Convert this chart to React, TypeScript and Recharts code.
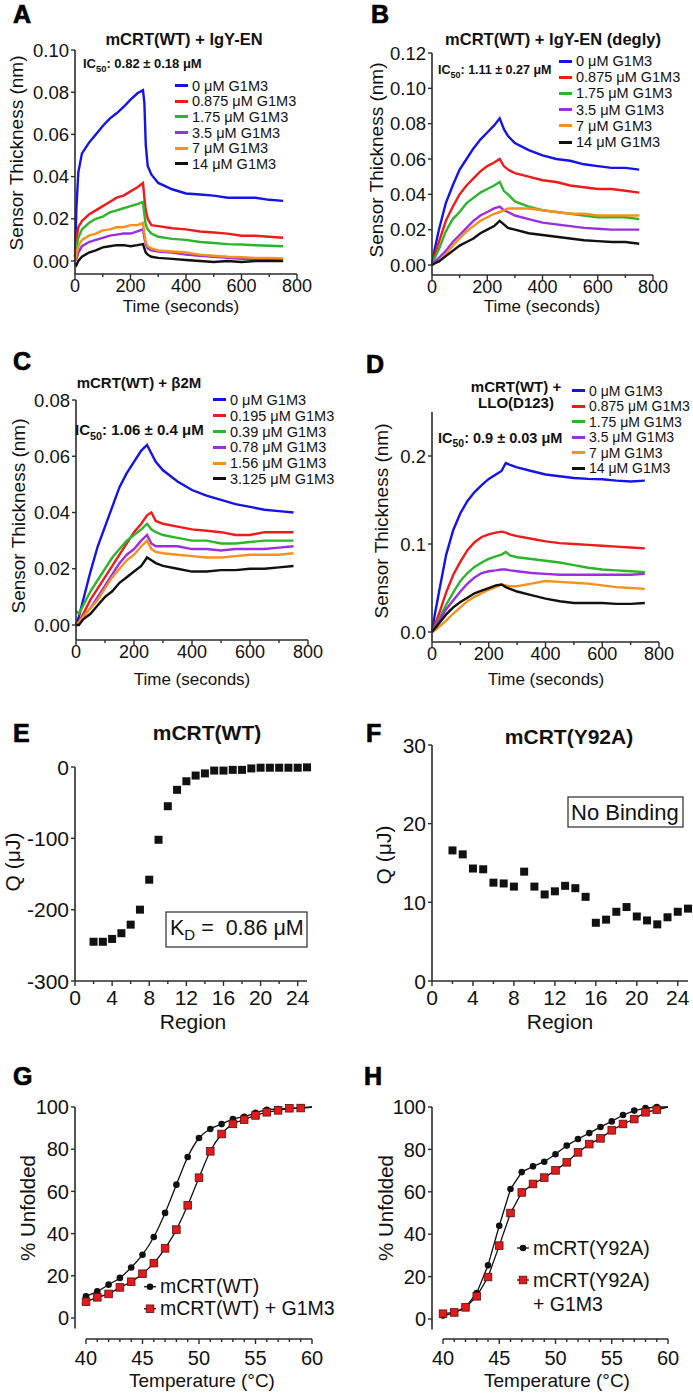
import React from "react";
import {
  LineChart,
  Line,
  XAxis,
  YAxis,
  Legend,
  ScatterChart,
  Scatter,
  ZAxis,
  ReferenceLine,
} from "recharts";

const FONT = '"Liberation Sans", Arial, Helvetica, sans-serif';
const AXIS = "#2b2b2b";
const INK = "#111111";
const RED = "#e31a1c";

// ---- sensorgrams (A-D), values ----
const timeA = [0, 5, 12, 25, 50, 75, 100, 125, 150, 175, 200, 225, 245, 250, 255, 262, 275, 300, 350, 400, 450, 500, 550, 600, 650, 700, 750];
const timeBCD = [0, 10, 25, 50, 75, 100, 125, 150, 175, 200, 225, 245, 260, 275, 300, 350, 400, 450, 500, 550, 600, 650, 700, 750];

// A: mCRT(WT) + IgY-EN
const a0 = [0.002, 0.025, 0.042, 0.051, 0.056, 0.06, 0.064, 0.0675, 0.07, 0.073, 0.0765, 0.0795, 0.081, 0.075, 0.055, 0.045, 0.041, 0.037, 0.034, 0.032, 0.0315, 0.031, 0.030, 0.030, 0.030, 0.029, 0.0285];
const a1 = [0.002, 0.01, 0.016, 0.019, 0.022, 0.024, 0.026, 0.028, 0.03, 0.031, 0.033, 0.035, 0.037, 0.03, 0.024, 0.02, 0.017, 0.0165, 0.0155, 0.015, 0.014, 0.0135, 0.013, 0.012, 0.012, 0.0115, 0.011];
const a2 = [0.001, 0.006, 0.011, 0.015, 0.018, 0.02, 0.021, 0.023, 0.024, 0.025, 0.026, 0.027, 0.028, 0.022, 0.017, 0.015, 0.013, 0.0115, 0.0105, 0.01, 0.009, 0.0085, 0.008, 0.0078, 0.0075, 0.0072, 0.007];
const a3 = [0, 0.001, 0.004, 0.007, 0.009, 0.01, 0.011, 0.012, 0.0125, 0.013, 0.013, 0.014, 0.015, 0.011, 0.008, 0.006, 0.005, 0.0045, 0.004, 0.003, 0.0025, 0.002, 0.0015, 0.001, 0.001, 0.0008, 0.0008];
const a4 = [0, 0.003, 0.007, 0.01, 0.012, 0.013, 0.0145, 0.015, 0.016, 0.016, 0.017, 0.017, 0.018, 0.013, 0.009, 0.007, 0.006, 0.005, 0.0045, 0.004, 0.003, 0.0025, 0.002, 0.0018, 0.0015, 0.0015, 0.0012];
const a5 = [-0.001, -0.002, 0, 0.002, 0.004, 0.005, 0.0065, 0.007, 0.0075, 0.0075, 0.007, 0.0075, 0.008, 0.006, 0.004, 0.003, 0.002, 0.0015, 0.001, 0.0005, 0, -0.0005, 0, -0.0005, 0, 0, 0];

// B: mCRT(WT) + IgY-EN (degly)
const b0 = [0, 0.009, 0.02, 0.035, 0.045, 0.054, 0.06, 0.066, 0.071, 0.075, 0.079, 0.083, 0.077, 0.073, 0.069, 0.065, 0.062, 0.06, 0.059, 0.057, 0.056, 0.055, 0.055, 0.054];
const b1 = [0, 0.006, 0.013, 0.025, 0.033, 0.04, 0.045, 0.049, 0.053, 0.056, 0.058, 0.06, 0.056, 0.054, 0.052, 0.05, 0.048, 0.047, 0.045, 0.044, 0.043, 0.043, 0.042, 0.041];
const b2 = [0, 0.004, 0.009, 0.019, 0.026, 0.03, 0.035, 0.038, 0.041, 0.043, 0.045, 0.047, 0.042, 0.04, 0.036, 0.033, 0.031, 0.03, 0.029, 0.028, 0.027, 0.027, 0.027, 0.026];
const b3 = [0, 0.002, 0.004, 0.008, 0.013, 0.017, 0.021, 0.025, 0.028, 0.03, 0.032, 0.033, 0.031, 0.03, 0.028, 0.026, 0.024, 0.023, 0.022, 0.021, 0.0205, 0.02, 0.02, 0.02];
const b4 = [0, 0.001, 0.002, 0.006, 0.011, 0.015, 0.019, 0.022, 0.025, 0.027, 0.029, 0.03, 0.031, 0.032, 0.032, 0.032, 0.031, 0.03, 0.029, 0.029, 0.028, 0.028, 0.028, 0.028];
const b5 = [0, 0.001, 0.002, 0.005, 0.008, 0.011, 0.013, 0.015, 0.018, 0.02, 0.022, 0.025, 0.023, 0.021, 0.02, 0.018, 0.017, 0.016, 0.015, 0.014, 0.0135, 0.013, 0.013, 0.012];

// C: mCRT(WT) + b2M
const c0 = [0, 0.003, 0.009, 0.019, 0.028, 0.035, 0.042, 0.049, 0.054, 0.058, 0.062, 0.064, 0.061, 0.058, 0.055, 0.051, 0.048, 0.046, 0.0445, 0.043, 0.042, 0.041, 0.0405, 0.04];
const c1 = [0, 0.001, 0.004, 0.009, 0.013, 0.017, 0.021, 0.025, 0.029, 0.033, 0.036, 0.039, 0.04, 0.037, 0.036, 0.035, 0.034, 0.0335, 0.033, 0.032, 0.032, 0.033, 0.033, 0.033];
const c2 = [0.005, 0.004, 0.007, 0.012, 0.016, 0.02, 0.024, 0.027, 0.03, 0.032, 0.034, 0.036, 0.034, 0.033, 0.032, 0.031, 0.03, 0.03, 0.029, 0.029, 0.0295, 0.03, 0.03, 0.03];
const c3 = [0, 0.001, 0.003, 0.006, 0.01, 0.014, 0.018, 0.022, 0.025, 0.027, 0.03, 0.032, 0.029, 0.028, 0.028, 0.028, 0.027, 0.027, 0.0265, 0.027, 0.027, 0.027, 0.0275, 0.028];
const c4 = [0, 0.001, 0.003, 0.006, 0.009, 0.013, 0.017, 0.02, 0.023, 0.025, 0.028, 0.03, 0.027, 0.026, 0.0255, 0.025, 0.0245, 0.024, 0.024, 0.0245, 0.025, 0.025, 0.025, 0.0255];
const c5 = [0, 0, 0.002, 0.004, 0.007, 0.01, 0.012, 0.015, 0.017, 0.019, 0.021, 0.024, 0.023, 0.022, 0.021, 0.02, 0.019, 0.019, 0.0195, 0.0195, 0.02, 0.02, 0.0205, 0.021];

// D: mCRT(WT) + LLO(D123)
const d0 = [0, 0.02, 0.046, 0.088, 0.116, 0.135, 0.149, 0.159, 0.167, 0.174, 0.179, 0.183, 0.192, 0.19, 0.187, 0.183, 0.179, 0.177, 0.175, 0.174, 0.1735, 0.172, 0.171, 0.172];
const d1 = [0, 0.008, 0.021, 0.045, 0.065, 0.08, 0.093, 0.102, 0.108, 0.111, 0.113, 0.114, 0.113, 0.111, 0.109, 0.106, 0.103, 0.101, 0.1, 0.099, 0.098, 0.097, 0.096, 0.095];
const d2 = [0, 0.006, 0.015, 0.031, 0.045, 0.058, 0.067, 0.074, 0.079, 0.083, 0.086, 0.088, 0.091, 0.087, 0.085, 0.083, 0.081, 0.079, 0.076, 0.073, 0.071, 0.07, 0.069, 0.068];
const d3 = [0, 0.005, 0.013, 0.026, 0.036, 0.046, 0.055, 0.062, 0.067, 0.069, 0.07, 0.071, 0.071, 0.07, 0.069, 0.067, 0.066, 0.065, 0.065, 0.065, 0.065, 0.065, 0.065, 0.066];
const d4 = [0, 0.002, 0.006, 0.013, 0.021, 0.028, 0.035, 0.04, 0.044, 0.048, 0.051, 0.054, 0.053, 0.052, 0.052, 0.055, 0.058, 0.057, 0.056, 0.055, 0.053, 0.051, 0.05, 0.049];
const d5 = [0, 0.004, 0.01, 0.02, 0.028, 0.034, 0.039, 0.044, 0.047, 0.05, 0.053, 0.054, 0.051, 0.049, 0.046, 0.042, 0.038, 0.035, 0.033, 0.033, 0.033, 0.032, 0.032, 0.033];

const concA = ["0 μM G1M3", "0.875 μM G1M3", "1.75 μM G1M3", "3.5 μM G1M3", "7 μM G1M3", "14 μM G1M3"];
const concC = ["0 μM G1M3", "0.195 μM G1M3", "0.39 μM G1M3", "0.78 μM G1M3", "1.56 μM G1M3", "3.125 μM G1M3"];
const traceColors = ["#1414e6", "#ef1b1b", "#2bb52b", "#9a2fe0", "#f7901e", "#111111"];

// ---- ITC (E, F) ----
const regions = [2, 3, 4, 5, 6, 7, 8, 9, 10, 11, 12, 13, 14, 15, 16, 17, 18, 19, 20, 21, 22, 23, 24, 25];
const qWT = [-245, -245, -241, -233, -221, -200, -158, -102, -55, -32, -20, -12, -9, -5, -5, -4, -4, -2, -1, -1, -1, -1, -1, -0.5];
const qY92A = [16.6, 16.1, 14.3, 14.2, 12.5, 12.4, 12.0, 13.9, 12.0, 11.0, 11.4, 12.1, 11.8, 10.7, 7.4, 7.8, 8.8, 9.4, 8.2, 7.7, 7.2, 8.1, 8.8, 9.2];

// ---- thermal melts (G, H) ----
const temps = [40, 41, 42, 43, 44, 45, 46, 47, 48, 49, 50, 51, 52, 53, 54, 55, 56, 57, 58, 59];
const unfWT = [10.3, 12.6, 15.8, 19, 23.9, 30, 38.4, 49.8, 63.2, 76.3, 85.3, 89.6, 91.9, 94.3, 95.4, 97.2, 98.7, 99, 99.3, 99.7];
const unfWTG1M3 = [7.7, 9.8, 11.4, 14.5, 17.2, 21, 26, 33, 41.9, 53.4, 66.5, 79, 87.2, 92, 94, 96, 97.5, 98.4, 99.4, 99.5];
const unfY92A = [1.6, 2.8, 5.5, 12.3, 25.3, 44, 61.3, 69.3, 72, 74.2, 77.7, 81.8, 84.9, 87.7, 90.6, 93.2, 96.2, 98.3, 99.5, 100];
const unfY92AG1M3 = [2.5, 3.1, 5.5, 10.7, 19.8, 34.6, 50, 59.7, 63.7, 66.7, 70.1, 73.9, 78.6, 82.5, 85.2, 89, 92, 94.3, 97.5, 98.7];
const fitEndTemp = 60;
const fitEndValue = 100;

const timeTicks = [0, 100, 200, 300, 400, 500, 600, 700, 800];
const regionTicks = [0, 2, 4, 6, 8, 10, 12, 14, 16, 18, 20, 22, 24];
const tempTicks = [40, 41, 42, 43, 44, 45, 46, 47, 48, 49, 50, 51, 52, 53, 54, 55, 56, 57, 58, 59, 60];

const toRows = (times: number[], series: number[][]) =>
  times.map((t, i) => {
    const r: Record<string, number> = { t };
    series.forEach((s, k) => {
      r["s" + k] = s[i];
    });
    return r;
  });

const meltRows = (a: number[], b: number[]) => [
  ...temps.map((t, i) => ({ t, a: a[i], b: b[i], fit: 0 })),
  { t: fitEndTemp, a: fitEndValue, b: fitEndValue, fit: 1 },
];

const axisLine = { stroke: AXIS, strokeWidth: 1.6 };

function BottomTick(props: any) {
  const { x, y, payload, major, fmt, fs, base } = props;
  const v = payload.value as number;
  const isMajor = major(v);
  return (
    <g>
      <line x1={x} x2={x} y1={y} y2={y + (isMajor ? 5 : 3)} stroke={AXIS} strokeWidth={1.4} />
      {isMajor ? (
        <text x={x} y={y + base} textAnchor="middle" fontSize={fs} fontFamily={FONT} fill={INK}>
          {fmt(v)}
        </text>
      ) : null}
    </g>
  );
}

function LeftTick(props: any) {
  const { x, y, payload, fmt, fs } = props;
  return (
    <g>
      <line x1={x} x2={x - 4} y1={y} y2={y} stroke={AXIS} strokeWidth={1.4} />
      <text x={x - 6} y={y + fs * 0.36} textAnchor="end" fontSize={fs} fontFamily={FONT} fill={INK}>
        {fmt(payload.value)}
      </text>
    </g>
  );
}

function TraceLegend({ payload, fs, rowH, order }: any) {
  const items = [...(payload ?? [])].sort(
    (p: any, q: any) => order.indexOf(p.value) - order.indexOf(q.value)
  );
  return (
    <div style={{ fontFamily: FONT, fontSize: fs, color: INK, whiteSpace: "nowrap" }}>
      {items.map((e: any) => (
        <div key={e.value} style={{ display: "flex", alignItems: "center", height: rowH }}>
          <span style={{ display: "inline-block", width: 13, height: 3, background: e.color, marginRight: 4 }} />
          <span>{e.value}</span>
        </div>
      ))}
    </div>
  );
}

function MeltLegend({ payload, fs, rowH, gap }: any) {
  const items = [...(payload ?? [])].sort((p: any, q: any) => (p.dataKey === "a" ? -1 : 1) - (q.dataKey === "a" ? -1 : 1));
  return (
    <div style={{ fontFamily: FONT, fontSize: fs, color: INK, whiteSpace: "nowrap", lineHeight: rowH + "px" }}>
      {items.map((e: any) => (
        <div key={e.dataKey} style={{ display: "flex", alignItems: "flex-start", marginBottom: gap }}>
          <svg width={12} height={rowH} style={{ marginRight: 4, flex: "none" }}>
            <line x1={0} x2={12} y1={rowH / 2} y2={rowH / 2} stroke={INK} strokeWidth={1.3} />
            {e.dataKey === "a" ? (
              <circle cx={6} cy={rowH / 2} r={3.3} fill={INK} />
            ) : (
              <rect x={2.2} y={rowH / 2 - 3.8} width={7.6} height={7.6} fill={RED} stroke="#5a1010" strokeWidth={0.8} />
            )}
          </svg>
          <div>
            {String(e.value)
              .split("\n")
              .map((s: string) => (
                <div key={s}>{s}</div>
              ))}
          </div>
        </div>
      ))}
    </div>
  );
}

type SensorProps = {
  left: number;
  top: number;
  w: number;
  h: number;
  plotL: number;
  plotT: number;
  plotR: number;
  plotB: number;
  rows: Record<string, number>[];
  names: string[];
  yDomain: [number, number];
  yTicks: number[];
  yFmt: (v: number) => string;
  legend: { left: number; top: number; rowH: number; fs: number };
};

function Sensorgram(p: SensorProps) {
  return (
    <div style={{ position: "absolute", left: p.left, top: p.top }}>
      <LineChart
        width={p.w}
        height={p.h}
        data={p.rows}
        margin={{ top: p.plotT - p.top, right: p.left + p.w - p.plotR, bottom: 0, left: 0 }}
      >
        <XAxis
          type="number"
          dataKey="t"
          domain={[0, 800]}
          ticks={timeTicks}
          interval={0}
          height={p.top + p.h - p.plotB}
          tickSize={0}
          tickMargin={0}
          tickLine={false}
          axisLine={axisLine}
          tick={(t: any) => (
            <BottomTick {...t} major={(v: number) => v % 200 === 0} fmt={String} fs={18} base={18} />
          )}
        />
        <YAxis
          type="number"
          domain={p.yDomain}
          ticks={p.yTicks}
          interval={0}
          width={p.plotL - p.left}
          tickSize={0}
          tickMargin={0}
          tickLine={false}
          axisLine={axisLine}
          tick={(t: any) => <LeftTick {...t} fmt={p.yFmt} fs={18.5} />}
        />
        {p.names.map((n, k) => (
          <Line
            key={n}
            type="linear"
            dataKey={"s" + k}
            name={n}
            stroke={traceColors[k]}
            strokeWidth={2.4}
            dot={false}
            activeDot={false}
            isAnimationActive={false}
          />
        ))}
        <Legend
          layout="vertical"
          align="center"
          verticalAlign="middle"
          itemSorter={null as any}
          wrapperStyle={{ left: p.legend.left - p.left, top: p.legend.top - p.top, width: "auto" }}
          content={(lp: any) => (
            <TraceLegend {...lp} fs={p.legend.fs} rowH={p.legend.rowH} order={p.names} />
          )}
        />
      </LineChart>
    </div>
  );
}

type ItcProps = {
  left: number;
  top: number;
  w: number;
  h: number;
  plotL: number;
  plotT: number;
  plotR: number;
  plotB: number;
  values: number[];
  yDomain: [number, number];
  yTicks: number[];
};

function Itc(p: ItcProps) {
  const data = regions.map((x, i) => ({ x, y: p.values[i] }));
  return (
    <div style={{ position: "absolute", left: p.left, top: p.top }}>
      <ScatterChart
        width={p.w}
        height={p.h}
        margin={{ top: p.plotT - p.top, right: p.left + p.w - p.plotR, bottom: 0, left: 0 }}
      >
        <XAxis
          type="number"
          dataKey="x"
          domain={[0, 25]}
          ticks={regionTicks}
          interval={0}
          height={p.top + p.h - p.plotB}
          tickSize={0}
          tickMargin={0}
          tickLine={false}
          axisLine={axisLine}
          tick={(t: any) => <BottomTick {...t} major={(v: number) => v % 4 === 0} fmt={String} fs={21} base={24} />}
        />
        <YAxis
          type="number"
          dataKey="y"
          domain={p.yDomain}
          ticks={p.yTicks}
          interval={0}
          width={p.plotL - p.left}
          tickSize={0}
          tickMargin={0}
          tickLine={false}
          axisLine={axisLine}
          tick={(t: any) => <LeftTick {...t} fmt={String} fs={21} />}
        />
        <ZAxis range={[60, 60]} />
        <Scatter data={data} shape="square" fill={INK} isAnimationActive={false} />
      </ScatterChart>
    </div>
  );
}

type MeltProps = {
  left: number;
  w: number;
  plotL: number;
  plotR: number;
  xMin: number;
  yMin: number;
  curve: "monotone" | "linear";
  rows: { t: number; a: number; b: number; fit: number }[];
  names: [string, string];
  legend: { left: number; top: number; rowH: number; gap: number };
};

const MELT_TOP = 1060;
const MELT_H = 335;
const MELT_PLOT_T = 1107;
const MELT_PLOT_B = 1339;

const wtDot = (p: any) =>
  p.payload?.fit ? <g key={"w" + p.index} /> : <circle key={"w" + p.index} cx={p.cx} cy={p.cy} r={3.3} fill={INK} />;
const ligDot = (p: any) =>
  p.payload?.fit ? (
    <g key={"l" + p.index} />
  ) : (
    <rect
      key={"l" + p.index}
      x={p.cx - 3.8}
      y={p.cy - 3.8}
      width={7.6}
      height={7.6}
      fill={RED}
      stroke="#5a1010"
      strokeWidth={0.8}
    />
  );

function Melt(p: MeltProps) {
  return (
    <div style={{ position: "absolute", left: p.left, top: MELT_TOP }}>
      <LineChart
        width={p.w}
        height={MELT_H}
        data={p.rows}
        margin={{ top: MELT_PLOT_T - MELT_TOP, right: p.left + p.w - p.plotR, bottom: 0, left: 0 }}
      >
        <XAxis
          type="number"
          dataKey="t"
          domain={[p.xMin, 60]}
          ticks={tempTicks}
          interval={0}
          height={MELT_TOP + MELT_H - MELT_PLOT_B}
          tickSize={0}
          tickMargin={0}
          tickLine={false}
          axisLine={false}
          tick={(t: any) => <BottomTick {...t} major={(v: number) => v % 5 === 0} fmt={String} fs={20} base={26} />}
        />
        <YAxis
          type="number"
          domain={[p.yMin, 100]}
          ticks={[0, 20, 40, 60, 80, 100]}
          interval={0}
          width={p.plotL - p.left}
          tickSize={0}
          tickMargin={0}
          tickLine={false}
          axisLine={false}
          tick={(t: any) => <LeftTick {...t} fmt={String} fs={20} />}
        />
        <ReferenceLine
          segment={[
            { x: p.xMin, y: -5 },
            { x: p.xMin, y: 100 },
          ]}
          stroke={AXIS}
          strokeWidth={1.6}
          ifOverflow="visible"
        />
        <ReferenceLine
          segment={[
            { x: 40, y: p.yMin },
            { x: 60, y: p.yMin },
          ]}
          stroke={AXIS}
          strokeWidth={1.6}
          ifOverflow="visible"
        />
        <Line
          type={p.curve}
          dataKey="a"
          name={p.names[0]}
          stroke={INK}
          strokeWidth={1.3}
          dot={wtDot}
          activeDot={false}
          isAnimationActive={false}
        />
        <Line
          type={p.curve}
          dataKey="b"
          name={p.names[1]}
          stroke={INK}
          strokeWidth={1.3}
          dot={ligDot}
          activeDot={false}
          isAnimationActive={false}
        />
        <Legend
          layout="vertical"
          align="center"
          verticalAlign="middle"
          itemSorter={null as any}
          wrapperStyle={{ left: p.legend.left - p.left, top: p.legend.top - MELT_TOP, width: "auto" }}
          content={(lp: any) => <MeltLegend {...lp} fs={19.5} rowH={p.legend.rowH} gap={p.legend.gap} />}
        />
      </LineChart>
    </div>
  );
}

function IC50({ x, y, fs, text }: { x: number; y: number; fs: number; text: string }) {
  return (
    <text x={x} y={y} fontSize={fs} fontWeight="bold" fill={INK}>
      IC
      <tspan fontSize={fs * 0.72} dy={fs * 0.3}>
        50
      </tspan>
      <tspan dy={-fs * 0.3}>{": " + text}</tspan>
    </text>
  );
}

function VTitle({ x, y, fs, text }: { x: number; y: number; fs: number; text: string }) {
  return (
    <text transform={`translate(${x},${y}) rotate(-90)`} textAnchor="middle" fontSize={fs} fill={INK}>
      {text}
    </text>
  );
}

const fix2 = (v: number) => v.toFixed(2);
const fix1 = (v: number) => v.toFixed(1);

export default function App() {
  return (
    <div style={{ position: "absolute", left: 0, top: 0, width: 693, height: 1395, background: "#fff", overflow: "hidden" }}>
      <Sensorgram
        left={0}
        top={0}
        w={346}
        h={320}
        plotL={75}
        plotT={50}
        plotR={297}
        plotB={274}
        rows={toRows(timeA, [a0, a1, a2, a3, a4, a5])}
        names={concA}
        yDomain={[-0.00616, 0.1]}
        yTicks={[0, 0.02, 0.04, 0.06, 0.08, 0.1]}
        yFmt={fix2}
        legend={{ left: 175, top: 78, rowH: 15.6, fs: 14.5 }}
      />
      <Sensorgram
        left={346}
        top={0}
        w={347}
        h={320}
        plotL={432}
        plotT={53}
        plotR={653}
        plotB={275}
        rows={toRows(timeBCD, [b0, b1, b2, b3, b4, b5])}
        names={concA}
        yDomain={[-0.00566, 0.12]}
        yTicks={[0, 0.02, 0.04, 0.06, 0.08, 0.1, 0.12]}
        yFmt={fix2}
        legend={{ left: 559, top: 53, rowH: 16.2, fs: 14.5 }}
      />
      <Sensorgram
        left={0}
        top={320}
        w={346}
        h={360}
        plotL={76}
        plotT={400}
        plotR={308}
        plotB={640}
        rows={toRows(timeBCD, [c0, c1, c2, c3, c4, c5])}
        names={concC}
        yDomain={[-0.00533, 0.08]}
        yTicks={[0, 0.02, 0.04, 0.06, 0.08]}
        yFmt={fix2}
        legend={{ left: 213, top: 392, rowH: 15.8, fs: 14.5 }}
      />
      <Sensorgram
        left={346}
        top={320}
        w={347}
        h={360}
        plotL={432}
        plotT={412}
        plotR={659}
        plotB={642}
        rows={toRows(timeBCD, [d0, d1, d2, d3, d4, d5])}
        names={concA}
        yDomain={[-0.01136, 0.25]}
        yTicks={[0, 0.1, 0.2]}
        yFmt={fix1}
        legend={{ left: 572, top: 383, rowH: 15.5, fs: 14 }}
      />
      <Itc
        left={0}
        top={700}
        w={346}
        h={330}
        plotL={75}
        plotT={767}
        plotR={307}
        plotB={981}
        values={qWT}
        yDomain={[-300, 0]}
        yTicks={[-300, -200, -100, 0]}
      />
      <Itc
        left={346}
        top={700}
        w={347}
        h={330}
        plotL={432}
        plotT={745}
        plotR={688}
        plotB={981}
        values={qY92A}
        yDomain={[0, 30]}
        yTicks={[0, 10, 20, 30]}
      />
      <Melt
        left={0}
        w={346}
        plotL={75}
        plotR={312}
        xMin={39.027}
        yMin={-9.95}
        curve="monotone"
        rows={meltRows(unfWT, unfWTG1M3)}
        names={["mCRT(WT)", "mCRT(WT) + G1M3"]}
        legend={{ left: 144, top: 1276, rowH: 21.5, gap: 0 }}
      />
      <Melt
        left={346}
        w={347}
        plotL={432}
        plotR={668}
        xMin={39.022}
        yMin={-9.43}
        curve="linear"
        rows={meltRows(unfY92A, unfY92AG1M3)}
        names={["mCRT(Y92A)", "mCRT(Y92A)\n+ G1M3"]}
        legend={{ left: 517, top: 1236, rowH: 24, gap: 8 }}
      />

      <svg
        width={693}
        height={1395}
        style={{ position: "absolute", left: 0, top: 0, pointerEvents: "none" }}
        fontFamily={FONT}
      >
        <g fontSize={25} fontWeight="bold" fill="#000" stroke="#000" strokeWidth={0.7}>
          <text x={13} y={23}>A</text>
          <text x={371} y={23}>B</text>
          <text x={13} y={370}>C</text>
          <text x={366} y={373}>D</text>
          <text x={13} y={742}>E</text>
          <text x={366} y={742}>F</text>
          <text x={13} y={1085}>G</text>
          <text x={364} y={1085}>H</text>
        </g>

        <g fontWeight="bold" fill={INK} textAnchor="middle">
          <text x={184} y={45} fontSize={16.5}>mCRT(WT) + IgY-EN</text>
          <text x={553} y={45} fontSize={16.5}>mCRT(WT) + IgY-EN (degly)</text>
          <text x={139} y={388} fontSize={15}>mCRT(WT) + β2M</text>
          <text x={516} y={392} fontSize={15}>mCRT(WT) +</text>
          <text x={516} y={408} fontSize={15}>LLO(D123)</text>
          <text x={207} y={740} fontSize={21}>mCRT(WT)</text>
          <text x={569} y={744} fontSize={21}>mCRT(Y92A)</text>
        </g>

        <IC50 x={83} y={68} fs={13} text="0.82 ± 0.18 μM" />
        <IC50 x={438} y={74} fs={12.5} text="1.11 ± 0.27 μM" />
        <IC50 x={75} y={435} fs={15} text="1.06 ± 0.4 μM" />
        <IC50 x={438} y={443} fs={14.5} text="0.9 ± 0.03 μM" />

        <g fill={INK} textAnchor="middle" fontSize={17}>
          <text x={181} y={312}>Time (seconds)</text>
          <text x={542} y={312}>Time (seconds)</text>
          <text x={192} y={685}>Time (seconds)</text>
          <text x={546} y={685}>Time (seconds)</text>
        </g>
        <VTitle x={23} y={153} fs={19} text="Sensor Thickness (nm)" />
        <VTitle x={383} y={160} fs={19} text="Sensor Thickness (nm)" />
        <VTitle x={25} y={516} fs={19} text="Sensor Thickness (nm)" />
        <VTitle x={388} y={521} fs={19} text="Sensor Thickness (nm)" />

        <VTitle x={20} y={862} fs={21} text="Q (μJ)" />
        <VTitle x={391} y={855} fs={21} text="Q (μJ)" />
        <g fill={INK} textAnchor="middle" fontSize={21}>
          <text x={193} y={1029}>Region</text>
          <text x={560} y={1029}>Region</text>
        </g>

        <rect x={166} y={912} width={141} height={35} fill="none" stroke={AXIS} strokeWidth={1.2} />
        <text x={170} y={935} fontSize={21.5} fill={INK}>
          K<tspan fontSize={15} dy={5}>D</tspan>
          <tspan dy={-5}>{" =\u00a0\u00a00.86 μM"}</tspan>
        </text>
        <rect x={568} y={797} width={115} height={30} fill="none" stroke={AXIS} strokeWidth={1.2} />
        <text x={571} y={820} fontSize={22} fill={INK}>
          No Binding
        </text>

        <g fill={INK} textAnchor="middle" fontSize={19}>
          <text x={202} y={1387}>Temperature (°C)</text>
          <text x={557} y={1387}>Temperature (°C)</text>
        </g>
        <VTitle x={35} y={1208} fs={20.5} text="% Unfolded" />
        <VTitle x={393} y={1208} fs={20.5} text="% Unfolded" />
      </svg>
    </div>
  );
}
